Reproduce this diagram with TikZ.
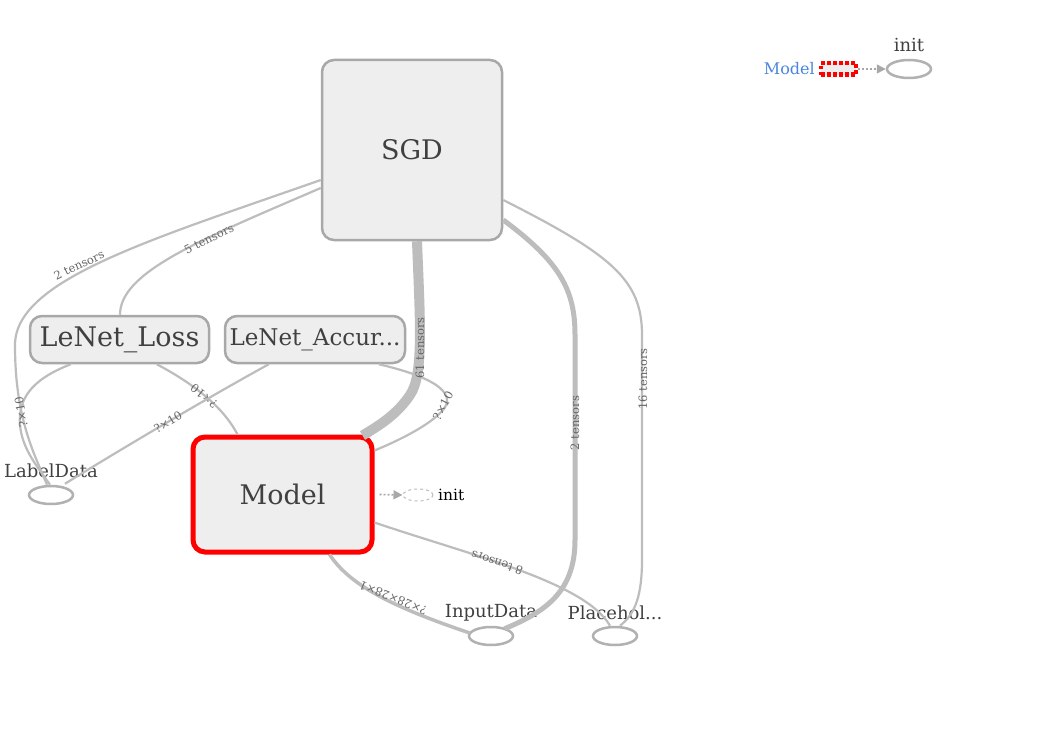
\documentclass[tikz,border=0pt]{standalone}
\usepackage{fontspec}
\setmainfont{DejaVu Serif}
\usetikzlibrary{shapes.geometric,arrows.meta,calc}
\definecolor{edgegray}{HTML}{BDBDBD}
\definecolor{boxgray}{HTML}{A8A8A8}
\definecolor{boxfill}{HTML}{EEEEEE}
\definecolor{txtgray}{HTML}{404040}
\definecolor{lblgray}{HTML}{666666}
\definecolor{legblue}{HTML}{4A86E0}
\begin{document}
\begin{tikzpicture}[x=1pt,y=-1pt,
  opbox/.style={draw=boxgray, fill=boxfill, line width=2.5pt, rounded corners=12pt, inner sep=0pt, text=txtgray},
  bigtxt/.style={font=\fontsize{27}{32}\selectfont},
  ellnode/.style={ellipse, draw=boxgray!90, line width=2.5pt, minimum width=44pt, minimum height=18pt, inner sep=0pt},
  nlabel/.style={font=\fontsize{18}{22}\selectfont, text=txtgray},
  edge/.style={draw=edgegray, line width=2.2pt},
  elbl/.style={font=\fontsize{11.5}{13}\selectfont, text=lblgray, inner sep=0pt},
  dotarrow/.style={draw=boxgray, line width=1.6pt, dash pattern=on 2pt off 2pt, -{Triangle[length=9pt,width=9pt]}}
]
\useasboundingbox (0,0) rectangle (1038,730);
\fill[white] (0,0) rectangle (1038,730);

\coordinate (c1) at (15,345);
\coordinate (c2) at (20,425);

% nodes
\node[opbox, bigtxt, minimum width=180pt, minimum height=180pt] (sgd) at (412,150) {SGD};
\node[opbox, bigtxt, minimum width=179pt, minimum height=47pt] (loss) at (119.5,339.5) {LeNet\_Loss};
\node[opbox, font=\fontsize{23}{27}\selectfont, minimum width=180pt, minimum height=47pt] (acc) at (315,339.5) {LeNet\_Accur...};
\node[opbox, bigtxt, draw=red, line width=5pt, minimum width=179pt, minimum height=115pt] (model) at (282.5,494.5) {Model};

\node[ellnode] (ld) at (51,495) {};
\node[nlabel] (ldl) at (51,471) {LabelData};
\node[ellnode] (inp) at (491,636) {};
\node[nlabel] (inpl) at (491,613) {InputData};
\node[ellnode] (ph) at (615,636) {};
\node[nlabel] (phl) at (615,613) {Placehol...};

\node[ellipse, draw=edgegray, line width=1pt, dashed, minimum width=30pt, minimum height=12pt, inner sep=0pt] (minit) at (418,495) {};
\node[font=\fontsize{15.5}{18}\selectfont, text=black, anchor=west, inner sep=0pt] (minitl) at (438,495) {init};

% legend
\node[font=\fontsize{16}{19}\selectfont, text=legblue, anchor=east, inner sep=0pt] (legm) at (815,69) {Model};
\node[draw=red, fill=boxfill, line width=4.5pt, dash pattern=on 3.5pt off 2.5pt, minimum width=35pt, minimum height=11.5pt, inner sep=0pt] (legbox) at (838.5,69) {};
\node[ellnode] (leginit) at (909,69) {};
\node[nlabel] (leginitl) at (909,45) {init};

% connectors
\draw[edge] ($(sgd.west)+(0,30)$) .. controls (150,240) and (15,280) .. (c1) .. controls (15,420) and (35,455) .. ($(ld.north)+(-4,0)$);
\node[elbl, rotate=25] (l1) at (79,265) {2 tensors};

\draw[edge] ($(sgd.west)+(0,38)$) .. controls (200,240) and (120,272) .. ($(loss.north)+(0.5,0)$);
\node[elbl, rotate=27] (l2) at (209,239) {5 tensors};

\draw[edge] ($(loss.south west)+(42,0)$) .. controls (30,380) and (18,400) .. (c2) .. controls (22,450) and (40,470) .. ($(ld.north)+(-1,0)$);
\node[elbl, rotate=100] (l3) at (21,412) {?×10};

\draw[edge] ($(loss.south west)+(128,0)$) .. controls (198,386) and (225,410) .. ($(model.north west)+(47,0)$);
\node[elbl, rotate=142] (l4) at (204,396) {?×10};

\draw[edge] ($(acc.south west)+(45,0)$) .. controls (200,402) and (110,456) .. ($(ld.north)+(14,-1)$);
\node[elbl, rotate=31] (l5) at (168,422) {?×10};

\draw[edge] ($(acc.south west)+(155,0)$) .. controls (430,376) and (458,392) .. (443,410) .. controls (430,425) and (400,440) .. ($(model.north east)+(0,16)$);
\node[elbl, rotate=62] (l6) at (443,406) {?×10};

\draw[draw=edgegray, line width=10pt] ($(sgd.south)+(5,0)$) .. controls (420,320) and (424,375) .. (410,395) .. controls (398,413) and (382,424) .. ($(model.north east)+(-12,1)$);
\node[elbl, rotate=90] (l7) at (420,348) {61 tensors};

\draw[draw=edgegray, line width=5pt] ($(sgd.east)+(0,70)$) .. controls (560,262) and (575,290) .. (575,335) -- (575,540) .. controls (575,592) and (545,612) .. ($(inp.north east)+(-3,0)$);
\node[elbl, rotate=90] (l8) at (575,423) {2 tensors};

\draw[edge] ($(sgd.east)+(0,50)$) .. controls (612,255) and (642,280) .. (642,335) -- (642,560) .. controls (642,602) and (632,616) .. ($(ph.north)+(5,0)$);
\node[elbl, rotate=90] (l9) at (643,379) {16 tensors};

\draw[edge] ($(model.east)+(0,28)$) .. controls (470,555) and (585,582) .. ($(ph.north)+(-5,0)$);
\node[elbl, rotate=161] (l10) at (497,563) {8 tensors};

\draw[draw=edgegray, line width=3.5pt] ($(model.south east)+(-45,0)$) .. controls (350,585) and (390,606) .. ($(inp.west)+(2,-3)$);
\node[elbl, rotate=158] (l11) at (393,598) {?×28×28×1};

\draw[dotarrow] ($(model.east)+(5,0)$) -- (minit.west);
\draw[dotarrow] (legbox.east) -- (leginit.west);
\end{tikzpicture}
\end{document}
